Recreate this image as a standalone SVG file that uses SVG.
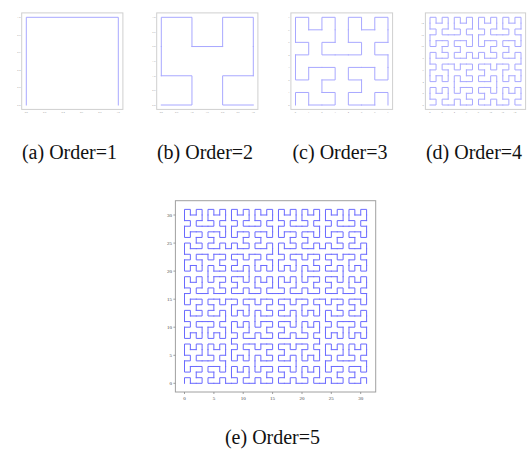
<svg xmlns="http://www.w3.org/2000/svg" xmlns:xlink="http://www.w3.org/1999/xlink" width="527" height="452" viewBox="0 0 527 452">
<style>
.hp{fill:none;vector-effect:non-scaling-stroke;stroke-linecap:square;stroke-linejoin:miter}
.small{stroke:#a8a8ff;stroke-width:1}
.big{stroke:#6a6aff;stroke-width:1}
.fs{fill:none;stroke:#cfcfcf;stroke-width:1}
.fb{fill:none;stroke:#a0a0a0;stroke-width:1}
.tkb{stroke:#888;stroke-width:0.8}
.ts{font-family:'Liberation Serif','Tinos','DejaVu Serif',serif;font-size:2.6px;fill:#999}
.tb{font-family:'Liberation Serif','Tinos','DejaVu Serif',serif;font-size:5px;fill:#444}
.cap{font-family:'Liberation Serif','Tinos','Times New Roman','DejaVu Serif',serif;font-size:20px;fill:#111;text-anchor:middle}
</style>
<defs>
<path id="h1" class="hp" d="M0 0V1H1V0"/>
<g id="h2">
<use xlink:href="#h1" transform="matrix(0,1,1,0,0,0)"/>
<use xlink:href="#h1" transform="translate(0,2)"/>
<use xlink:href="#h1" transform="translate(2,2)"/>
<use xlink:href="#h1" transform="matrix(0,-1,-1,0,3,1)"/>
<path class="hp" d="M0 1V2M1 2H2M3 2V1"/>
</g>
<g id="h3">
<use xlink:href="#h2" transform="matrix(0,1,1,0,0,0)"/>
<use xlink:href="#h2" transform="translate(0,4)"/>
<use xlink:href="#h2" transform="translate(4,4)"/>
<use xlink:href="#h2" transform="matrix(0,-1,-1,0,7,3)"/>
<path class="hp" d="M0 3V4M3 4H4M7 4V3"/>
</g>
<g id="h4">
<use xlink:href="#h3" transform="matrix(0,1,1,0,0,0)"/>
<use xlink:href="#h3" transform="translate(0,8)"/>
<use xlink:href="#h3" transform="translate(8,8)"/>
<use xlink:href="#h3" transform="matrix(0,-1,-1,0,15,7)"/>
<path class="hp" d="M0 7V8M7 8H8M15 8V7"/>
</g>
<g id="h5">
<use xlink:href="#h4" transform="matrix(0,1,1,0,0,0)"/>
<use xlink:href="#h4" transform="translate(0,16)"/>
<use xlink:href="#h4" transform="translate(16,16)"/>
<use xlink:href="#h4" transform="matrix(0,-1,-1,0,31,15)"/>
<path class="hp" d="M0 15V16M15 16H16M31 16V15"/>
</g>
</defs>
<rect width="527" height="452" fill="#fff"/>

<g id="panel-a">
<rect class="fs" x="21.7" y="12.9" width="101.2" height="96.5"/>
<g class="small"><use xlink:href="#h1" transform="translate(26.3,105) scale(92,-87.7)"/></g>
<g class="ts" text-anchor="end">
<text x="20.6" y="105.9">0.0</text><text x="20.6" y="88.4">0.2</text><text x="20.6" y="70.8">0.4</text><text x="20.6" y="53.3">0.6</text><text x="20.6" y="35.7">0.8</text><text x="20.6" y="18.2">1.0</text>
</g>
<g class="ts" text-anchor="middle">
<text x="26.3" y="113.2">0.0</text><text x="44.7" y="113.2">0.2</text><text x="63.1" y="113.2">0.4</text><text x="81.5" y="113.2">0.6</text><text x="99.9" y="113.2">0.8</text><text x="118.3" y="113.2">1.0</text>
</g>
<text class="cap" x="69.5" y="158.5">(a) Order=1</text>
</g>

<g id="panel-b">
<rect class="fs" x="156.7" y="12.9" width="101.2" height="96.5"/>
<g class="small"><use xlink:href="#h2" transform="translate(161.3,105) scale(30.667,-29.233)"/></g>
<g class="ts" text-anchor="end">
<text x="155.6" y="105.9">0.0</text><text x="155.6" y="91.3">0.5</text><text x="155.6" y="76.7">1.0</text><text x="155.6" y="62.1">1.5</text><text x="155.6" y="47.4">2.0</text><text x="155.6" y="32.8">2.5</text><text x="155.6" y="18.2">3.0</text>
</g>
<g class="ts" text-anchor="middle">
<text x="161.3" y="113.2">0.0</text><text x="176.6" y="113.2">0.5</text><text x="192.0" y="113.2">1.0</text><text x="207.3" y="113.2">1.5</text><text x="222.6" y="113.2">2.0</text><text x="238.0" y="113.2">2.5</text><text x="253.3" y="113.2">3.0</text>
</g>
<text class="cap" x="205" y="158.5">(b) Order=2</text>
</g>

<g id="panel-c">
<rect class="fs" x="290.9" y="12.9" width="101.7" height="96.5"/>
<g class="small"><use xlink:href="#h3" transform="translate(295.5,105) scale(13.214,-12.529)"/></g>
<g class="ts" text-anchor="end">
<text x="289.6" y="105.9">0</text><text x="289.6" y="93.4">1</text><text x="289.6" y="80.8">2</text><text x="289.6" y="68.3">3</text><text x="289.6" y="55.8">4</text><text x="289.6" y="43.3">5</text><text x="289.6" y="30.7">6</text><text x="289.6" y="18.2">7</text>
</g>
<g class="ts" text-anchor="middle">
<text x="295.5" y="113.2">0</text><text x="308.7" y="113.2">1</text><text x="321.9" y="113.2">2</text><text x="335.1" y="113.2">3</text><text x="348.4" y="113.2">4</text><text x="361.6" y="113.2">5</text><text x="374.8" y="113.2">6</text><text x="388.0" y="113.2">7</text>
</g>
<text class="cap" x="340" y="158.5">(c) Order=3</text>
</g>

<g id="panel-d">
<rect class="fs" x="425.4" y="12.9" width="100.2" height="96.5"/>
<g class="small"><use xlink:href="#h4" transform="translate(430,105) scale(6.067,-5.847)"/></g>
<g class="ts" text-anchor="end">
<text x="423.8" y="105.9">0</text><text x="423.8" y="94.2">2</text><text x="423.8" y="82.5">4</text><text x="423.8" y="70.8">6</text><text x="423.8" y="59.1">8</text><text x="423.8" y="47.4">10</text><text x="423.8" y="35.7">12</text><text x="423.8" y="24.0">14</text>
</g>
<g class="ts" text-anchor="middle">
<text x="430" y="113.2">0</text><text x="442.1" y="113.2">2</text><text x="454.3" y="113.2">4</text><text x="466.4" y="113.2">6</text><text x="478.5" y="113.2">8</text><text x="490.7" y="113.2">10</text><text x="502.8" y="113.2">12</text><text x="514.9" y="113.2">14</text>
</g>
<text class="cap" x="474" y="158.5">(d) Order=4</text>
</g>

<g id="panel-e">
<rect class="fb" x="175.4" y="200.7" width="200.3" height="191.3"/>
<g class="big"><use xlink:href="#h5" transform="translate(184.5,383.3) scale(5.874,-5.61)"/></g>
<g class="tkb">
<path d="M173.4 383.3H175.4M173.4 355.3H175.4M173.4 327.2H175.4M173.4 299.2H175.4M173.4 271.1H175.4M173.4 243.1H175.4M173.4 215.0H175.4"/>
<path d="M184.5 392V394M213.9 392V394M243.2 392V394M272.6 392V394M302.0 392V394M331.3 392V394M360.7 392V394"/>
</g>
<g class="tb" text-anchor="end">
<text x="172" y="385">0</text><text x="172" y="357">5</text><text x="172" y="328.9">10</text><text x="172" y="300.9">15</text><text x="172" y="272.8">20</text><text x="172" y="244.8">25</text><text x="172" y="216.7">30</text>
</g>
<g class="tb" text-anchor="middle">
<text x="184.5" y="399.5">0</text><text x="213.9" y="399.5">5</text><text x="243.2" y="399.5">10</text><text x="272.6" y="399.5">15</text><text x="302.0" y="399.5">20</text><text x="331.3" y="399.5">25</text><text x="360.7" y="399.5">30</text>
</g>
<text class="cap" x="272.5" y="444">(e) Order=5</text>
</g>
</svg>
